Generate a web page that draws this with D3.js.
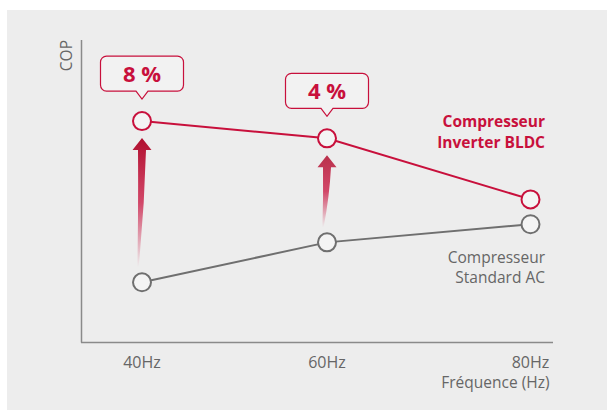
<!DOCTYPE html>
<html><head><meta charset="utf-8">
<script src="https://d3js.org/d3.v7.min.js"></script>
<style>
html,body{margin:0;padding:0;background:#fff;}
svg{display:block;}
text{font-family:"Open Sans",Lato,sans-serif;}
</style></head>
<body>
<svg id="chart" width="607" height="410"></svg>
<script>
// ---- data ----
const categories = [40, 60, 80];
const tickLabels = ["40Hz", "60Hz", "80Hz"];
const inverterCOP = [7.32, 6.75, 4.73];
const standardCOP = [1.99, 3.31, 3.91];
const gainLabels = ["8 %", "4 %", null];
const seriesNames = [["Compresseur", "Inverter BLDC"], ["Compresseur", "Standard AC"]];
const yTitle = "COP";
const xTitle = "Fréquence (Hz)";

const RED = "#c8103c", GRAY = "#6f6f6f", AXIS = "#8a8a8a", TXT = "#666666";

const svg = d3.select("#chart");
svg.append("rect").attr("x", 7).attr("y", 10).attr("width", 600).attr("height", 400).attr("fill", "#ededed");

const x = d3.scaleLinear().domain(categories).range([142, 327, 530.5]);
const y = d3.scaleLinear().domain([0, 10]).range([342.5, 40]);

// axes
svg.append("line").attr("x1", 81.5).attr("x2", 81.5).attr("y1", y(10)).attr("y2", y(0))
  .attr("stroke", AXIS).attr("stroke-width", 1.5);
svg.append("line").attr("x1", 81).attr("x2", 553).attr("y1", y(0)).attr("y2", y(0))
  .attr("stroke", AXIS).attr("stroke-width", 1.5);

svg.append("text").attr("transform", `translate(72,${y(10)}) rotate(-90)`)
  .attr("text-anchor", "end").attr("font-size", 15.5).attr("fill", TXT).text(yTitle);

svg.selectAll(".tick").data(categories).join("text")
  .attr("x", d => x(d))
  .attr("y", 367.5).attr("text-anchor", "middle")
  .attr("font-size", 16).attr("fill", TXT).text((d, i) => tickLabels[i]);
svg.append("text").attr("x", 549.5).attr("y", 388).attr("text-anchor", "end")
  .attr("font-size", 15.5).attr("fill", TXT).text(xTitle);

// gradient arrows
const defs = svg.append("defs");
categories.forEach((c, i) => {
  if (!gainLabels[i]) return;
  const g = defs.append("linearGradient").attr("id", "ag" + i)
    .attr("gradientUnits", "userSpaceOnUse")
    .attr("x1", 0).attr("x2", 0)
    .attr("y1", y(standardCOP[i]) - 15).attr("y2", y(inverterCOP[i]) + 17);
  g.append("stop").attr("offset", 0).attr("stop-color", RED).attr("stop-opacity", 0);
  g.append("stop").attr("offset", 0.5).attr("stop-color", RED).attr("stop-opacity", 0.75);
  g.append("stop").attr("offset", 1).attr("stop-color", "#b0102f").attr("stop-opacity", i === 0 ? 1 : 0.85);

  const cx = x(c), top = y(inverterCOP[i]) + 17, bot = y(standardCOP[i]) - 15;
  const headH = 12, headW = 9.5, sw = 4;
  const base = top + headH;
  const bx = cx - 4;
  const p = d3.path();
  p.moveTo(cx, top);
  p.lineTo(cx + headW, base);
  p.lineTo(cx + sw, base);
  p.quadraticCurveTo(cx + sw * 0.6, (base + bot) / 2, bx + 0.6, bot);
  p.lineTo(bx - 0.6, bot);
  p.quadraticCurveTo(cx - sw * 0.9, (base + bot) / 2, cx - sw, base);
  p.lineTo(cx - headW, base);
  p.closePath();
  svg.append("path").attr("d", p.toString()).attr("fill", `url(#ag${i})`);
});

// lines
const line = d3.line().x((d, i) => x(categories[i])).y(d => y(d));
svg.append("path").attr("d", line(standardCOP)).attr("fill", "none").attr("stroke", GRAY).attr("stroke-width", 2);
svg.append("path").attr("d", line(inverterCOP)).attr("fill", "none").attr("stroke", RED).attr("stroke-width", 2);

svg.selectAll(".ps").data(standardCOP).join("circle")
  .attr("cx", (d, i) => x(categories[i])).attr("cy", d => y(d)).attr("r", 9)
  .attr("fill", "#f4f4f4").attr("stroke", GRAY).attr("stroke-width", 2);
svg.selectAll(".pi").data(inverterCOP).join("circle")
  .attr("cx", (d, i) => x(categories[i])).attr("cy", d => y(d)).attr("r", 9)
  .attr("fill", "#f4f4f4").attr("stroke", RED).attr("stroke-width", 2);

// callouts
categories.forEach((c, i) => {
  if (!gainLabels[i]) return;
  const cx = x(c), tip = y(inverterCOP[i]) - 22;
  const bb = tip - 8, bt = bb - 35, w = 83, r = 6;
  const l = cx - w / 2, rr = cx + w / 2;
  const p = d3.path();
  p.moveTo(l + r, bt);
  p.lineTo(rr - r, bt); p.arcTo(rr, bt, rr, bt + r, r);
  p.lineTo(rr, bb - r); p.arcTo(rr, bb, rr - r, bb, r);
  p.lineTo(cx + 6, bb); p.lineTo(cx, tip); p.lineTo(cx - 6, bb);
  p.lineTo(l + r, bb); p.arcTo(l, bb, l, bb - r, r);
  p.lineTo(l, bt + r); p.arcTo(l, bt, l + r, bt, r);
  p.closePath();
  svg.append("path").attr("d", p.toString()).attr("fill", "#f2f2f2").attr("stroke", RED).attr("stroke-width", 1.2);
  svg.append("text").attr("x", cx).attr("y", bb - 9).attr("text-anchor", "middle")
    .attr("font-size", 22).attr("font-weight", 700).attr("fill", RED).text(gainLabels[i]);
});

// series labels
seriesNames[0].forEach((t, k) => svg.append("text").attr("x", 545).attr("y", 127 + k * 21)
  .attr("text-anchor", "end").attr("font-size", 15.5).attr("font-weight", 700).attr("fill", RED).text(t));
seriesNames[1].forEach((t, k) => svg.append("text").attr("x", 545).attr("y", 263 + k * 20)
  .attr("text-anchor", "end").attr("font-size", 15.5).attr("fill", TXT).text(t));
</script>
</body></html>
